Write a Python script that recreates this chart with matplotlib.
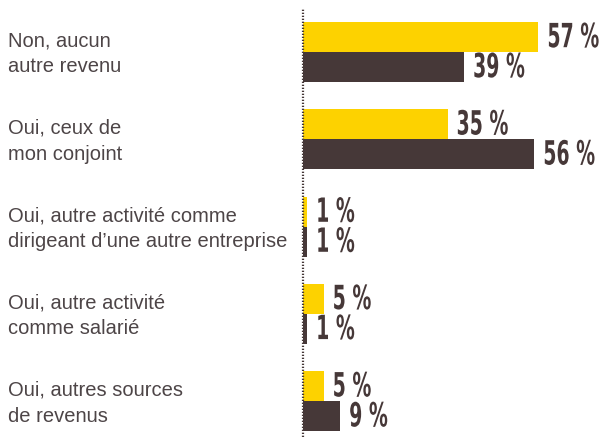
"""
Autres revenus du foyer - barres horizontales groupées
"""

import matplotlib.pyplot as plt
import matplotlib.patheffects as pe
from matplotlib.transforms import Affine2D
import numpy as np

categories = [
    "Non, aucun\nautre revenu",
    "Oui, ceux de\nmon conjoint",
    "Oui, autre activité comme\ndirigeant d’une autre entreprise",
    "Oui, autre activité\ncomme salarié",
    "Oui, autres sources\nde revenus",
]
serie_jaune = [57, 35, 1, 5, 5]
serie_brune = [39, 56, 1, 1, 9]

JAUNE = '#FDD200'
BRUN = '#463838'
GRIS = '#4d4547'


class Etroit(pe.AbstractPathEffect):
    """Resserre horizontalement le texte (police très condensée)"""
    def __init__(self, sx):
        super().__init__()
        self.sx = sx

    def draw_path(self, renderer, gc, tpath, affine, rgbFace=None):
        x0, y0 = affine.transform((0, 0))
        aff = affine + Affine2D().translate(-x0, -y0).scale(self.sx, 1).translate(x0, y0)
        renderer.draw_path(gc, tpath, aff, rgbFace)


W, H = 604, 437
fig = plt.figure(figsize=(W / 100, H / 100), dpi=100)

# axe en coordonnées pixels : débute à x=303, occupe toute la hauteur
ax = fig.add_axes([303 / W, 0, (W - 303) / W, 1])
pas = 87.3
y0 = 52
ax.set_ylim((H - y0) / pas, -y0 / pas)
ax.set_xlim(0, (W - 303) / 4.13)

y = np.arange(len(categories))
h = 30 / pas
ax.barh(y - h / 2, serie_jaune, height=h, color=JAUNE)
ax.barh(y + h / 2, serie_brune, height=h, color=BRUN)

for yy, v1, v2 in zip(y, serie_jaune, serie_brune):
    for v, dy in ((v1, -h / 2), (v2, h / 2)):
        ax.annotate(f"{v} %", xy=(v, yy + dy), xytext=(6.5, -0.5),
                    textcoords='offset points', va='center', ha='left',
                    fontsize=24, fontweight='bold', fontstretch='condensed',
                    family='DejaVu Sans', color=BRUN, annotation_clip=False,
                    path_effects=[Etroit(0.63)])

# ligne pointillée de l'axe
ax.axvline(0, ymin=0, ymax=1 - 8 / H, color=BRUN, linewidth=1.6,
           linestyle=(0, (0.6, 0.75)), clip_on=False)

for yy, cat in zip(y, categories):
    fig.text(8 / W, 1 - (y0 + 2 + yy * pas) / H, cat, ha='left', va='center',
             fontsize=14.5, color=GRIS, family=['Liberation Sans', 'DejaVu Sans'],
             linespacing=1.45)

ax.axis('off')
fig.savefig('out.png', dpi=100)
